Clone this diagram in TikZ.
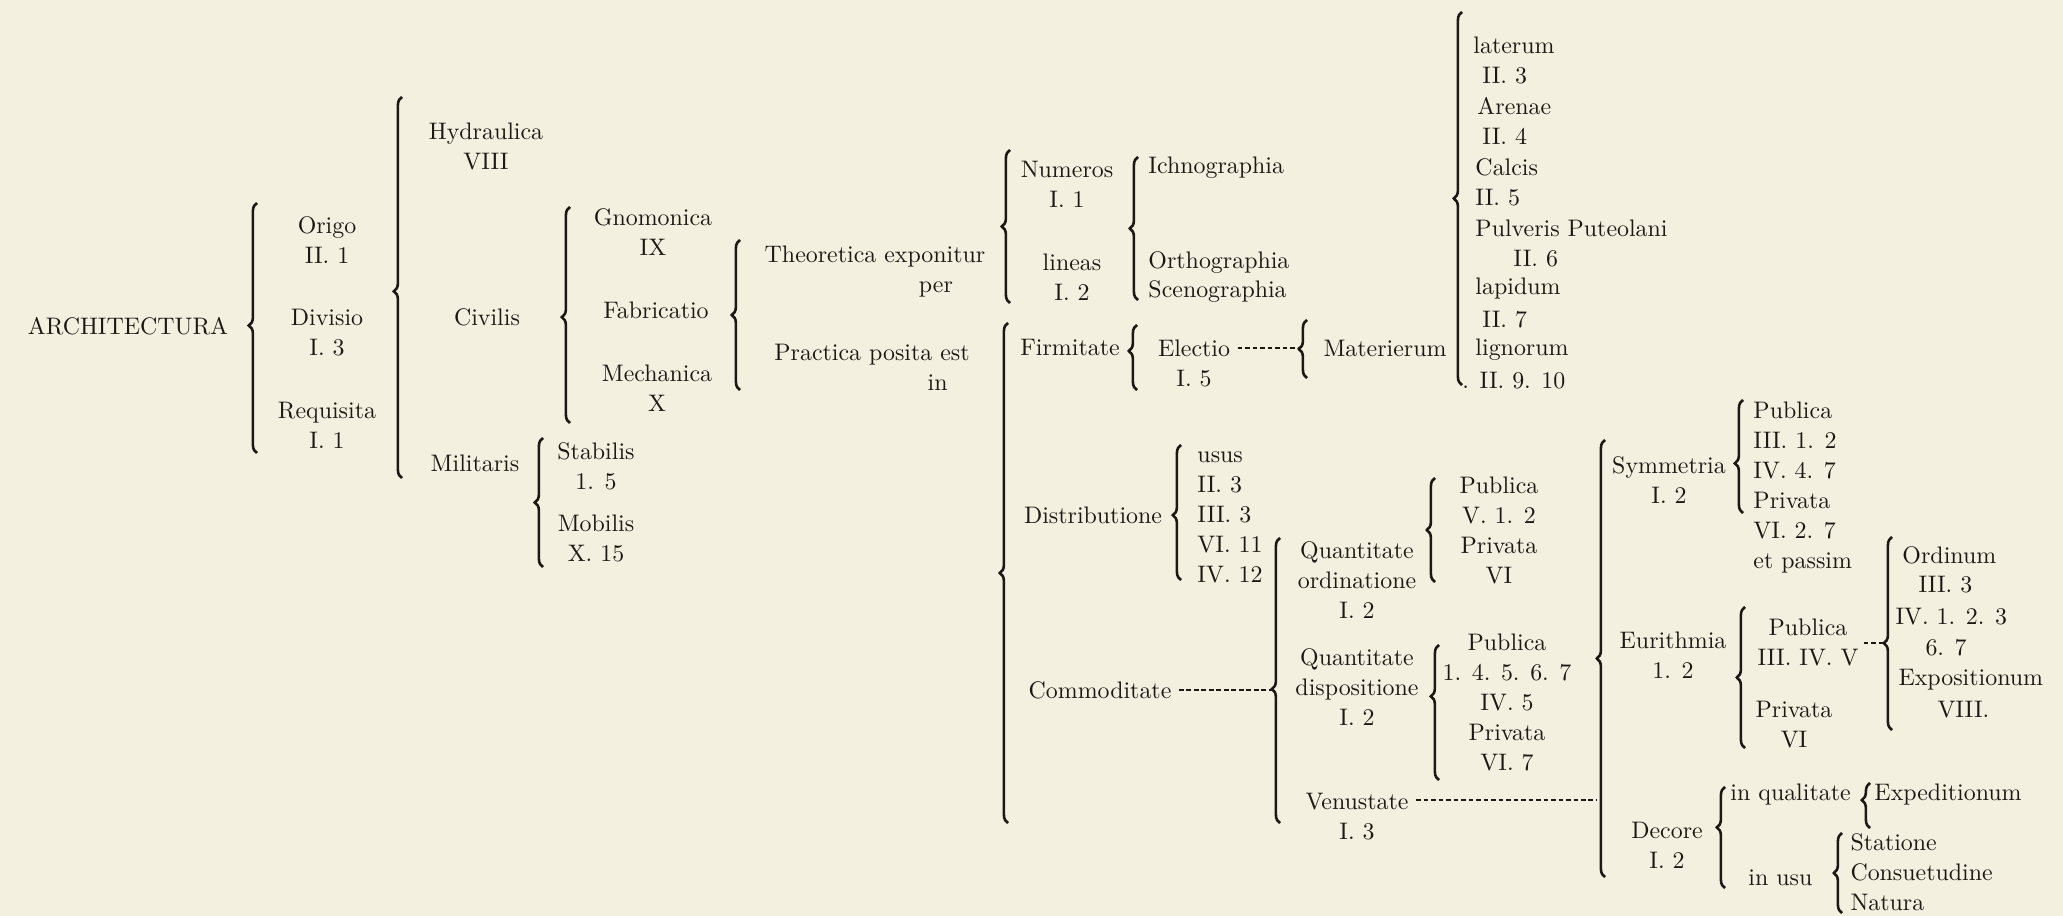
\documentclass[tikz,border=0pt]{standalone}
\usepackage{fontspec}
\usetikzlibrary{decorations.pathreplacing}
\definecolor{paper}{RGB}{244,240,223}
\definecolor{ink}{RGB}{30,24,20}
\newcommand\txtfont{\fontsize{10.2}{12.8}\selectfont\addfontfeature{FakeStretch=1.13}}
\tikzset{
  txt/.style={font=\txtfont, text=ink, align=center, inner sep=0pt},
  lft/.style={txt, anchor=west},
  brc/.style={decorate, decoration={brace, amplitude=3.5pt, aspect=#1}, draw=ink, line width=1.1pt},
  brc/.default=0.5,
  dashln/.style={draw=ink, line width=0.5pt, dash pattern=on 2pt off 1.2pt}
}
\begin{document}
\begin{tikzpicture}[x=0.015cm, y=-0.015cm]
% paper
\fill[paper] (0,0) rectangle (2063,916);
\useasboundingbox (0,0) rectangle (2063,916);

% Architectura
\node[txt] (arch) at (128,326) {ARCHITECTURA};
\draw[brc=0.51] (257,453) -- (257,203);
\node[txt] (origo) at (327,240) {Origo\\II. 1};
\node[txt] (divisio) at (327,333) {Divisio\\I. 3};
\node[txt] (requisita) at (327,425) {Requisita\\I. 1};

% Divisio
\draw[brc=0.49] (402,478) -- (402,97);
\node[txt] (hydr) at (486,146) {Hydraulica\\VIII};
\node[txt] (civilis) at (487,317) {Civilis};
\node[txt] (militaris) at (475,463) {Militaris};

% Militaris
\draw[brc] (543,567) -- (543,438);
\node[txt] (stabilis) at (596,466) {Stabilis\\1. 5};
\node[txt] (mobilis) at (596,538) {Mobilis\\X. 15};

% Civilis
\draw[brc=0.49] (570,423) -- (570,207);
\node[txt] (gnom) at (653,232) {Gnomonica\\IX};
\node[txt] (fabr) at (656,310) {Fabricatio};
\node[txt] (mech) at (657,388) {Mechanica\\X};

% Fabricatio
\draw[brc] (740,390) -- (740,240);
\node[txt] (theor) at (875,272) {Theoretica exponitur\\\hspace*{52pt}per};
\node[txt] (pract) at (872,367) {Practica posita est\\\hspace*{56pt}in};

% Theoretica
\draw[brc] (1010,303) -- (1010,150);
\node[txt] (numeros) at (1067,184) {Numeros\\I. 1};
\node[txt] (lineas) at (1072,277) {lineas\\I. 2};
\draw[brc] (1138,300) -- (1138,157);
\node[lft] (ichno) at (1148,168) {Ichnographia};
\node[lft] (ortho) at (1148,263) {Orthographia};
\node[lft] (sceno) at (1148,292) {Scenographia};

% Practica
\draw[brc] (1008,823) -- (1008,323);
\node[txt] (firm) at (1070,348) {Firmitate};
\draw[brc=0.6] (1137,390) -- (1137,325);
\node[txt] (electio) at (1194,363) {Electio\\I. 5};
\draw[brc] (1307,378) -- (1307,320);
\coordinate (matTip) at (1299,348);
\draw[dashln] ([xshift=3pt]electio.east |- matTip) -- (matTip);
\node[txt] (mater) at (1385,348) {Materierum};

% Materierum
\draw[brc] (1462,385) -- (1462,12);
\foreach \n/\x/\y/\t in {m1/1473/45/laterum, m2/1482/75.5/II. 3, m3/1477/106/Arenae,
    m4/1482/136.5/II. 4, m5/1475/167/Calcis, m6/1475/197.5/II. 5,
    m7/1475/228/Pulveris Puteolani, m8/1513/258.5/II. 6, m9/1475/289/lapidum,
    m10/1482/319.5/II. 7, m11/1475/350/lignorum, m12/1462/380.5/. II. 9. 10}
  \node[lft] (\n) at (\x,\y) {\t};

% Distributione
\node[txt] (distr) at (1093,515) {Distributione};
\draw[brc=0.48] (1181,580) -- (1181,445);
\node[lft, align=left] (usus) at (1197,517) {usus\\II. 3\\III. 3\\VI. 11\\IV. 12};

% Commoditate
\node[txt] (commod) at (1100,690) {Commoditate};
\draw[brc=0.47] (1280,823) -- (1280,538);
\coordinate (comTip) at (1272,690);
\draw[dashln] ([xshift=3pt]commod.east) -- (comTip);
\node[txt] (qord) at (1357,580) {Quantitate\\ordinatione\\I. 2};
\draw[brc] (1435,582) -- (1435,478);
\node[txt] (qordl) at (1499,530) {Publica\\V. 1. 2\\Privata\\VI};
\node[txt] (qdis) at (1357,687) {Quantitate\\dispositione\\I. 2};
\draw[brc=0.62] (1439,780) -- (1439,645);
\node[txt] (qdisl) at (1507,702) {Publica\\1. 4. 5. 6. 7\\IV. 5\\Privata\\VI. 7};
\node[txt] (venus) at (1357,817) {Venustate\\I. 3};

% Venustate
\draw[brc] (1605,877) -- (1605,440);
\coordinate (venTip) at (1597,800);
\draw[dashln] ([xshift=3pt]venus.east |- venTip) -- (venTip);
\node[txt] (symm) at (1669,480) {Symmetria\\I. 2};
\draw[brc=0.44] (1743,513) -- (1743,400);
\node[lft, align=left] (symml) at (1753,488) {Publica\\III. 1. 2\\IV. 4. 7\\Privata\\VI. 2. 7\\et passim};
\node[txt] (eur) at (1673,655) {Eurithmia\\1. 2};
\draw[brc] (1745,748) -- (1745,607);
\node[txt] (eurpub) at (1808,642) {Publica\\III. IV. V};
\node[txt] (eurpriv) at (1794,725) {Privata\\VI};
\coordinate (ordTip) at (1884,643);
\draw[dashln] ([xshift=2pt]eurpub.east |- ordTip) -- (ordTip);
\draw[brc=0.45] (1892,730) -- (1892,537);
\foreach \n/\x/\y/\t in {o1/1902/555/Ordinum, o2/1918/585/III. 3, o3/1895/617/IV. 1. 2. 3,
    o4/1925/648/6. 7, o5/1898/680/Expositionum, o6/1937/710/VIII.}
  \node[lft] (\n) at (\x,\y) {\t};
\node[txt] (decore) at (1667,845) {Decore\\I. 2};
\draw[brc=0.6] (1725,888) -- (1725,787);
\node[lft] (inqual) at (1730,795) {in qualitate};
\draw[brc=0.62] (1870,828) -- (1870,783);
\node[lft] (exped) at (1874,795) {Expeditionum};
\node[lft] (inusu) at (1748,878) {in usu};
\draw[brc] (1842,913) -- (1842,833);
\node[lft, align=left] (usul) at (1850,872) {Statione\\Consuetudine\\Natura};
\end{tikzpicture}
\end{document}
